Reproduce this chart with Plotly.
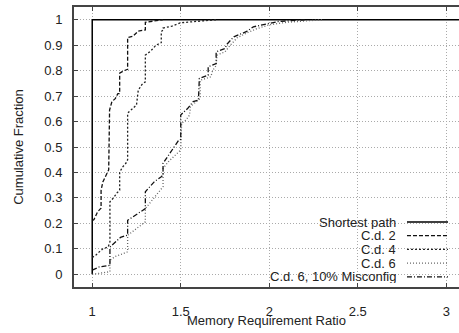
import plotly.graph_objects as go

# ---- data ----
sp_x = [1.0, 1.0, 3.1]
sp_y = [0.0, 1.0, 1.0]

cd2_x = [1.00, 1.01, 1.02, 1.03, 1.05, 1.05, 1.06, 1.07, 1.08, 1.093, 1.098, 1.104, 1.111, 1.13, 1.145, 1.155, 1.155, 1.18, 1.20, 1.20, 1.23, 1.26, 1.30, 1.30, 1.35, 1.40]
cd2_y = [0.21, 0.215, 0.23, 0.245, 0.26, 0.33, 0.363, 0.377, 0.39, 0.41, 0.645, 0.665, 0.678, 0.69, 0.71, 0.71, 0.79, 0.80, 0.805, 0.93, 0.935, 0.955, 0.96, 0.99, 0.995, 1.0]

cd4_x = [1.00, 1.02, 1.04, 1.06, 1.09, 1.10, 1.10, 1.12, 1.14, 1.155, 1.155, 1.17, 1.19, 1.20, 1.20, 1.22, 1.25, 1.26, 1.28, 1.30, 1.30, 1.33, 1.36, 1.39, 1.39, 1.40, 1.40, 1.45, 1.49, 1.50, 1.60, 1.70]
cd4_y = [0.066, 0.075, 0.088, 0.10, 0.107, 0.127, 0.285, 0.30, 0.32, 0.33, 0.40, 0.42, 0.436, 0.45, 0.633, 0.645, 0.665, 0.723, 0.745, 0.756, 0.861, 0.877, 0.90, 0.91, 0.953, 0.96, 0.967, 0.975, 0.985, 0.988, 0.994, 1.0]

cd6_x = [1.00, 1.05, 1.10, 1.10, 1.13, 1.17, 1.20, 1.20, 1.25, 1.30, 1.30, 1.35, 1.38, 1.40, 1.40, 1.43, 1.46, 1.50, 1.505, 1.53, 1.55, 1.555, 1.60, 1.61, 1.61, 1.67, 1.68, 1.70, 1.705, 1.75, 1.78, 1.82, 1.88, 1.93, 2.00, 2.10, 2.30]
cd6_y = [0.0, 0.005, 0.01, 0.055, 0.07, 0.08, 0.088, 0.153, 0.18, 0.206, 0.258, 0.30, 0.324, 0.344, 0.416, 0.442, 0.462, 0.488, 0.593, 0.606, 0.626, 0.659, 0.685, 0.69, 0.762, 0.776, 0.80, 0.82, 0.861, 0.874, 0.90, 0.93, 0.95, 0.965, 0.98, 0.99, 1.0]

mis_x = [1.00, 1.04, 1.10, 1.10, 1.16, 1.20, 1.20, 1.27, 1.30, 1.30, 1.35, 1.39, 1.40, 1.40, 1.445, 1.49, 1.50, 1.50, 1.54, 1.57, 1.60, 1.605, 1.655, 1.655, 1.70, 1.70, 1.75, 1.76, 1.80, 1.87, 1.91, 1.99, 2.05, 2.20]
mis_y = [0.016, 0.029, 0.035, 0.107, 0.145, 0.154, 0.212, 0.245, 0.258, 0.324, 0.363, 0.383, 0.39, 0.436, 0.48, 0.528, 0.53, 0.626, 0.652, 0.678, 0.684, 0.769, 0.782, 0.815, 0.828, 0.874, 0.887, 0.903, 0.933, 0.953, 0.972, 0.985, 0.993, 1.0]

names = ["Shortest path", "C.d. 2", "C.d. 4", "C.d. 6", "C.d. 6, 10% Misconfig"]
dashes = ["solid", "4px,2px", "2px,2px", "1px,2px", "5px,2px,1px,2px"]
colors = ["#000000", "#111111", "#222222", "#666666", "#111111"]
widths = [1.5, 1.3, 1.3, 1.3, 1.3]
xs = [sp_x, cd2_x, cd4_x, cd6_x, mis_x]
ys = [sp_y, cd2_y, cd4_y, cd6_y, mis_y]

x_ticks = [1, 1.5, 2, 2.5, 3]
y_ticks = [0, 0.1, 0.2, 0.3, 0.4, 0.5, 0.6, 0.7, 0.8, 0.9, 1]
x_title = "Memory Requirement Ratio"
y_title = "Cumulative Fraction"

fig = go.Figure()
for x, y, n, d, c, w in zip(xs, ys, names, dashes, colors, widths):
    fig.add_trace(go.Scatter(x=x, y=y, mode="lines", name=n,
                             line=dict(color=c, dash=d, width=w), showlegend=False))

font = dict(family="Liberation Sans, Arial, sans-serif", size=13, color="#222222")

# legend box (white background hiding grid) drawn by hand, gnuplot style
shapes = [dict(type="rect", xref="paper", yref="paper", x0=0.41, x1=0.99, y0=0.0, y1=0.264,
               fillcolor="white", line=dict(width=0), layer="between")]
annotations = []
row_y = [0.2321, 0.1832, 0.1343, 0.0854, 0.0364]
for i, n in enumerate(names):
    annotations.append(dict(xref="paper", yref="paper", x=0.8390, y=row_y[i], text=n,
                            showarrow=False, xanchor="right", yanchor="middle", font=font,
                            borderpad=0, height=13))
    shapes.append(dict(type="line", xref="paper", yref="paper", x0=0.8649, x1=0.9714,
                       y0=row_y[i], y1=row_y[i],
                       line=dict(color=colors[i], dash=dashes[i], width=widths[i])))

# x-axis title placed like gnuplot's xlabel
annotations.append(dict(xref="paper", yref="paper", x=0.5, y=-0.121, text=x_title,
                        showarrow=False, xanchor="center", yanchor="middle", font=font))

fig.update_layout(
    width=459, height=333,
    margin=dict(l=74, r=0, t=7, b=46, autoexpand=False),
    paper_bgcolor="white", plot_bgcolor="white",
    font=font,
    shapes=shapes, annotations=annotations,
    xaxis=dict(range=[0.897, 3.072], tickvals=x_ticks, ticktext=[str(v) for v in x_ticks],
               showgrid=True, gridcolor="#aaaaaa", griddash="1px,2px", gridwidth=1,
               showline=True, linecolor="#444444", linewidth=2, mirror="ticks",
               ticks="inside", ticklen=4, tickcolor="#444444", zeroline=False,
               ticklabelstandoff=11, automargin=False),
    yaxis=dict(range=[-0.05, 1.05], tickvals=y_ticks, ticktext=[f"{v:g}" for v in y_ticks],
               showgrid=True, gridcolor="#aaaaaa", griddash="1px,2px", gridwidth=1,
               showline=True, linecolor="#444444", linewidth=2, mirror=False,
               ticks="inside", ticklen=4, tickcolor="#444444", zeroline=False,
               ticklabelstandoff=7, automargin=False,
               title=dict(text=y_title, standoff=18, font=font)),
)

fig.write_html("out.html", config={"displayModeBar": False},
               post_script="document.body.style.margin='0';")
